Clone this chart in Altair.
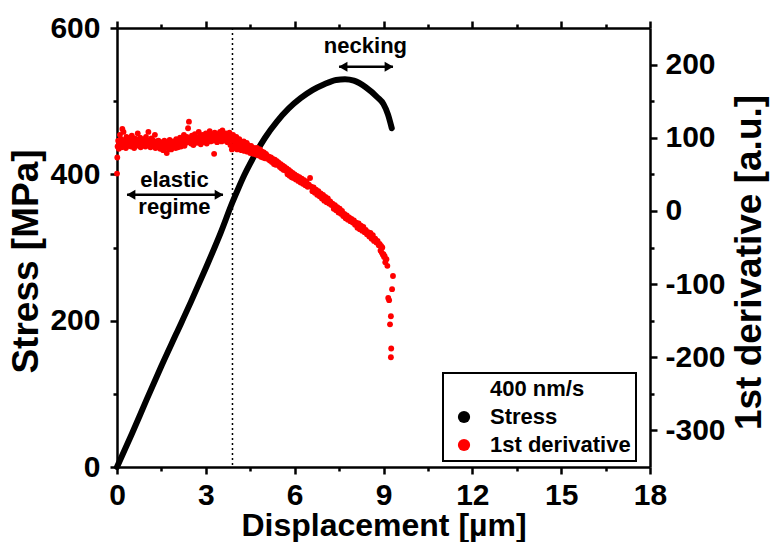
import altair as alt
import pandas as pd

# ---------------- data ----------------
stress_disp = [0, 0.5, 1.0, 1.5, 2.0, 2.5, 3.0, 3.5, 3.9, 4.1, 4.3, 4.5, 4.7, 5.0,
               5.4, 5.8, 6.2, 6.6, 7.0, 7.4, 7.7, 8.0, 8.4, 8.8, 9.0, 9.15, 9.28]
stress_mpa = [0, 45, 92, 138, 182, 226, 272, 320, 362, 381, 399, 415, 430, 450,
              472, 490, 504, 515, 523, 529, 530, 528, 519, 505, 496, 482, 463]

flat_x = [
    0.00, 0.01, 0.02, 0.04, 0.06, 0.08, 0.10, 0.12, 0.14, 0.16,
    0.18, 0.20, 0.22, 0.25, 0.27, 0.30, 0.32, 0.35, 0.38, 0.40,
    0.42, 0.45, 0.48, 0.50, 0.53, 0.55, 0.58, 0.60, 0.63, 0.66,
    0.68, 0.70, 0.73, 0.76, 0.78, 0.80, 0.83, 0.86, 0.88, 0.90,
    0.93, 0.96, 0.98, 1.00, 1.03, 1.06, 1.08, 1.10, 1.13, 1.16,
    1.18, 1.20, 1.23, 1.26, 1.28, 1.30, 1.33, 1.36, 1.38, 1.40,
    1.43, 1.46, 1.48, 1.50, 1.53, 1.56, 1.58, 1.60, 1.63, 1.66,
    1.68, 1.70, 1.73, 1.76, 1.78, 1.80, 1.83, 1.86, 1.88, 1.90,
    1.93, 1.96, 1.98, 2.00, 2.03, 2.06, 2.08, 2.10, 2.13, 2.16,
    2.18, 2.20, 2.23, 2.26, 2.28, 2.30, 2.33, 2.36, 2.38, 2.40,
    2.43, 2.46, 2.48, 2.50, 2.53, 2.56, 2.58, 2.60, 2.63, 2.66,
    2.68, 2.70, 2.73, 2.76, 2.78, 2.80, 2.83, 2.86, 2.88, 2.90,
    2.93, 2.96, 2.98, 3.00, 3.03, 3.06, 3.08, 3.10, 3.13, 3.16,
    3.18, 3.20, 3.23, 3.26, 3.28, 3.30, 3.33, 3.36, 3.38, 3.40,
    3.43, 3.46, 3.48, 3.50, 3.53, 3.56, 3.58, 3.60, 3.63, 3.66,
    3.68, 3.70, 3.73, 3.76, 3.78, 3.80, 3.83, 3.86, 3.88, 3.90,
]
flat_y = [
    51, 73, 88, 96, 85, 93, 104, 90, 98, 87,
    112, 94, 108, 91, 97, 86, 101, 93, 89, 99,
    92, 96, 88, 103, 91, 95, 86, 99, 94, 90,
    97, 106, 89, 93, 100, 87, 95, 92, 98, 91,
    94, 88, 101, 92, 96, 108, 90, 95, 87, 99,
    93, 97, 89, 91, 104, 86, 95, 92, 88, 96,
    90, 85, 94, 87, 92, 83, 89, 96, 86, 91,
    79, 88, 93, 85, 97, 90, 84, 92, 87, 95,
    89, 94, 86, 98, 91, 87, 96, 93, 100, 88,
    95, 91, 99, 104, 89, 97, 93, 101, 96, 113,
    122, 94, 99, 92, 103, 96, 90, 98, 105, 94,
    100, 93, 97, 108, 95, 102, 91, 99, 104, 96,
    101, 94, 98, 106, 92, 100, 103, 97, 109, 95,
    99, 104, 96, 101, 78, 107, 98, 102, 94, 105,
    100, 97, 108, 103, 95, 110, 101, 99, 104, 96,
    106, 100, 94, 103, 98, 107, 90, 101, 84, 96,
]
neck_x = [
    3.92, 3.95, 3.98, 4.00, 4.03, 4.06, 4.08, 4.10, 4.13, 4.16,
    4.18, 4.20, 4.23, 4.26, 4.28, 4.30, 4.33, 4.36, 4.38, 4.40,
    4.43, 4.46, 4.48, 4.50, 4.53, 4.56, 4.60, 4.63, 4.66, 4.70,
    4.73, 4.76, 4.80, 4.83, 4.86, 4.90, 4.93, 4.96, 5.00, 5.03,
    5.06, 5.10, 5.13, 5.16, 5.20, 5.23, 5.26, 5.30, 5.33, 5.36,
    5.40, 5.43, 5.46, 5.50, 5.53, 5.56, 5.60, 5.63, 5.66, 5.70,
    5.73, 5.76, 5.80, 5.83, 5.86, 5.90, 5.93, 5.96, 6.00, 6.04,
    6.08, 6.12, 6.16, 6.20, 6.24, 6.28, 6.32, 6.36, 6.40, 6.44,
    6.48, 6.52, 6.56, 6.60, 6.64, 6.68, 6.72, 6.76, 6.80, 6.84,
    6.88, 6.92, 6.96, 7.00, 7.04, 7.08, 7.12, 7.16, 7.20, 7.24,
    7.28, 7.32, 7.36, 7.40, 7.44, 7.48, 7.52, 7.56, 7.60, 7.64,
    7.68, 7.72, 7.76, 7.80, 7.84, 7.88, 7.92, 7.96, 8.00, 8.04,
    8.08, 8.12, 8.16, 8.20, 8.24, 8.28, 8.32, 8.36, 8.40, 8.44,
    8.48, 8.52, 8.56, 8.60, 8.64, 8.68, 8.72, 8.76, 8.80, 8.84,
    8.87, 8.90, 8.92, 8.94, 8.96, 8.98, 9.00, 9.02, 9.04, 9.06,
]
neck_y = [
    104, 86, 99, 91, 101, 84, 95, 89, 98, 86,
    94, 83, 91, 86, 95, 82, 90, 85, 93, 81,
    90, 82, 87, 79, 89, 81, 78, 86, 80, 77,
    86, 76, 82, 84, 74, 81, 73, 80, 72, 78,
    76, 71, 74, 69, 73, 67, 71, 64, 70, 63,
    68, 63, 66, 60, 64, 58, 62, 56, 60, 55,
    58, 50, 56, 48, 54, 46, 52, 45, 50, 43,
    48, 41, 46, 39, 44, 37, 42, 35, 40, 33,
    36, 45, 33, 27, 32, 25, 29, 22, 27, 20,
    24, 17, 22, 14, 19, 12, 17, 10, 13, 8,
    10, 3, 8, 1, 5, -2, 3, -4, 0, -7,
    -4, -10, -6, -12, -9, -14, -11, -16, -13, -19,
    -16, -23, -17, -25, -20, -27, -22, -29, -26, -32,
    -29, -35, -30, -38, -33, -41, -38, -43, -41, -47,
    -45, -54, -48, -57, -50, -60, -59, -63, -62, -70,
]
tail_x = [9.10, 9.13, 9.32, 9.29, 9.16, 9.19, 9.25, 9.22, 9.26, 9.25]
tail_y = [-66, -75, -89, -107, -119, -122, -144, -155, -188, -200]

legend_labels = ["400 nm/s", "Stress", "1st derivative"]
legend_colors = ["#ffffff", "#000000", "#ff0000"]

x_major = [0, 3, 6, 9, 12, 15, 18]
x_minor = [1.5, 4.5, 7.5, 10.5, 13.5, 16.5]
stress_major = [0, 200, 400, 600]
stress_minor = [100, 300, 500]
deriv_major = [-300, -200, -100, 0, 100, 200]
deriv_minor = [-250, -150, -50, 50, 150]

elastic_limit = [3.9]
arrow_start = [7.50, 0.34]
arrow_end = [9.32, 3.58]
arrow_level = [547, 372]
note_text = ["necking", "elastic", "regime"]
note_x = [8.39, 1.94, 1.94]
note_y = [566, 383, 346]

assert len(flat_x) == len(flat_y)
assert len(neck_x) == len(neck_y)
assert len(tail_x) == len(tail_y)

# ---------------- tables ----------------
stress_df = pd.DataFrame({"disp": stress_disp, "stress": stress_mpa})
deriv_df = pd.DataFrame({
    "disp": flat_x + neck_x + tail_x,
    "deriv": flat_y + neck_y + tail_y,
})
deriv_df["series"] = "1st derivative"
limit_df = pd.DataFrame({"disp": elastic_limit})
arrow_df = pd.DataFrame({"x1": arrow_start, "x2": arrow_end, "y": arrow_level})
note_df = pd.DataFrame({"label": note_text, "x": note_x, "y": note_y})

FONT = "Liberation Sans"
x_scale = alt.Scale(domain=[0, 18], nice=False, zero=False)
s_scale = alt.Scale(domain=[0, 600], nice=False)
d_scale = alt.Scale(domain=[-350, 250], nice=False)


def axis(orient, values, major=True, title=None, pad=10, labels=None, **kw):
    return alt.Axis(
        orient=orient, values=values, title=title, grid=False,
        labels=major if labels is None else labels, domain=major, ticks=True,
        tickSize=7 if major else 4, tickWidth=2.5, tickColor="black",
        domainWidth=2.5, domainColor="black",
        labelFont=FONT, labelFontSize=30, labelFontWeight="bold",
        labelColor="black", labelPadding=pad,
        labelExpr="'' + datum.value",
        labelFlush=False, labelOverlap=False,
        titleFont=FONT, titleFontWeight="bold", titleColor="black", **kw)


stress_line = alt.Chart(stress_df).mark_line(
    color="black", strokeWidth=6, interpolate="monotone", strokeCap="round"
).encode(
    x=alt.X("disp:Q", scale=x_scale,
            axis=axis("bottom", x_major, title="Displacement [µm]", pad=6,
                      titleFontSize=32, titleY=68, titleBaseline="alphabetic")),
    y=alt.Y("stress:Q", scale=s_scale,
            axis=axis("left", stress_major, title="Stress [MPa]", pad=10,
                      titleFontSize=37, titleAngle=270, titleX=-80, titleY=233,
                      titleBaseline="alphabetic", titleAlign="center")),
)

limit_rule = alt.Chart(limit_df).mark_rule(
    color="black", strokeWidth=1.5, strokeDash=[2, 3]
).encode(x=alt.X("disp:Q", scale=x_scale, axis=None))

deriv_pts = alt.Chart(deriv_df).mark_point(
    filled=True, size=34, opacity=1
).encode(
    x=alt.X("disp:Q", scale=x_scale,
            axis=axis("top", x_major, major=True, labels=False)),
    y=alt.Y("deriv:Q", scale=d_scale,
            axis=axis("right", deriv_major, title="1st derivative [a.u.]", pad=8,
                      titleFontSize=37, titleAngle=270, titleX=110, titleY=234,
                      titleBaseline="alphabetic", titleAlign="center")),
    color=alt.Color("series:N",
                    scale=alt.Scale(domain=legend_labels, range=legend_colors),
                    legend=alt.Legend(
                        title=None, orient="none", legendX=326, legendY=345,
                        padding=5, symbolType="circle", symbolSize=150,
                        symbolOffset=5, symbolStrokeWidth=0, labelOffset=15,
                        rowPadding=6, labelFont=FONT, labelFontSize=22,
                        labelFontWeight="bold", labelColor="black", labelLimit=400,
                        strokeColor="black", fillColor="white")),
)

deriv_minor = alt.Chart(deriv_df).mark_point(opacity=0, size=1).encode(
    x=alt.X("disp:Q", scale=x_scale, axis=axis("top", x_minor, major=False)),
    y=alt.Y("deriv:Q", scale=d_scale, axis=axis("right", deriv_minor, major=False)),
)

arrow_rules = alt.Chart(arrow_df).mark_rule(color="black", strokeWidth=2.5).encode(
    x=alt.X("x1:Q", scale=x_scale, axis=None),
    x2="x2:Q",
    y=alt.Y("y:Q", scale=s_scale, axis=None),
)
head_left = alt.Chart(arrow_df).mark_point(
    shape="triangle-left", filled=True, size=100, color="black", opacity=1, xOffset=4
).encode(
    x=alt.X("x1:Q", scale=x_scale, axis=None),
    y=alt.Y("y:Q", scale=s_scale, axis=None),
)
head_right = alt.Chart(arrow_df).mark_point(
    shape="triangle-right", filled=True, size=100, color="black", opacity=1, xOffset=-4
).encode(
    x=alt.X("x2:Q", scale=x_scale, axis=None),
    y=alt.Y("y:Q", scale=s_scale, axis=None),
)

notes = alt.Chart(note_df).mark_text(
    font=FONT, fontSize=22, fontWeight="bold", color="black",
    align="center", baseline="alphabetic"
).encode(
    x=alt.X("x:Q", scale=x_scale, axis=axis("bottom", x_minor, major=False)),
    y=alt.Y("y:Q", scale=s_scale, axis=axis("left", stress_minor, major=False)),
    text="label:N",
)

chart = alt.layer(
    stress_line, limit_rule, deriv_pts, deriv_minor,
    arrow_rules, head_left, head_right, notes
).resolve_scale(
    y="independent"
).resolve_axis(
    x="independent"
).properties(
    width=533, height=439,
    padding={"left": 117, "top": 28, "right": 121, "bottom": 75},
    autosize=alt.AutoSizeParams(type="none"),
    background="white",
).configure(
    font=FONT
).configure_view(
    strokeWidth=0
).configure_legend(
    strokeWidth=2
)

chart.save("out.html", embed_options={"renderer": "svg", "actions": False})
